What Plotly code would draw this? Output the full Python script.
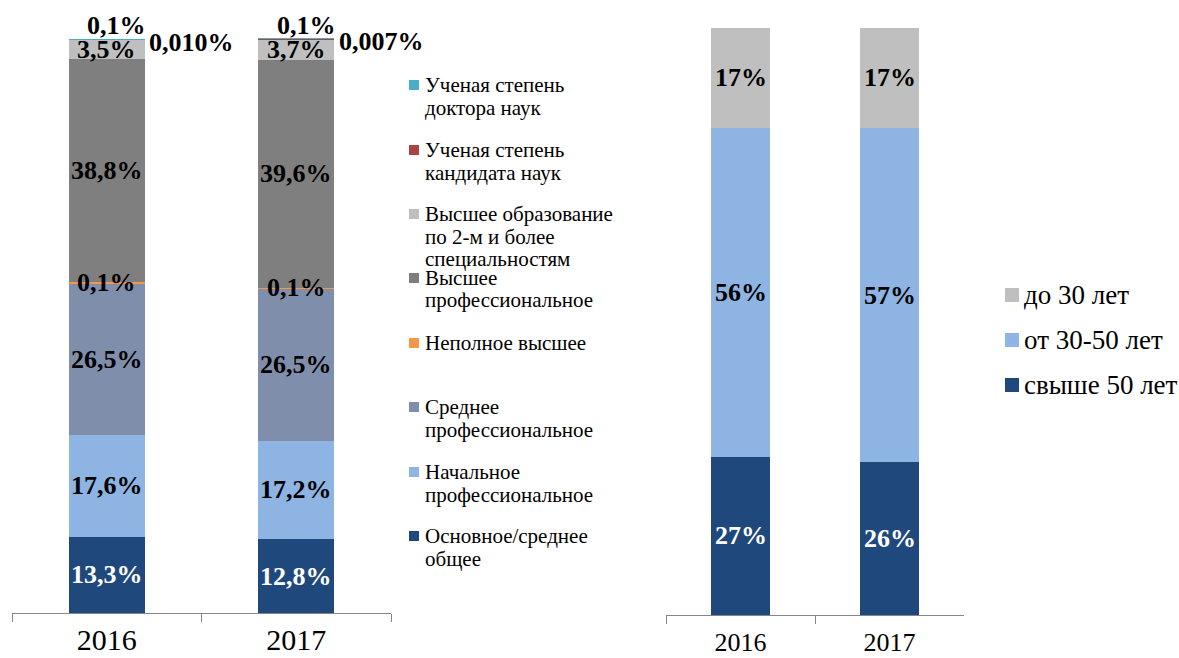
import plotly.graph_objects as go

# ---------------- data ----------------
years = ["2016", "2017"]

edu_names = [
    "Основное/среднее общее",
    "Начальное профессиональное",
    "Среднее профессиональное",
    "Неполное высшее",
    "Высшее профессиональное",
    "Высшее образование по 2-м и более специальностям",
    "Ученая степень кандидата наук",
    "Ученая степень доктора наук",
]
edu_basic = [13.3, 12.8]
edu_initial = [17.6, 17.2]
edu_secondary = [26.5, 26.5]
edu_incomplete = [0.1, 0.1]
edu_higher = [38.8, 39.6]
edu_two_higher = [3.5, 3.7]
edu_candidate = [0.1, 0.1]
edu_doctor = [0.010, 0.007]

age_names = ["свыше 50 лет", "от 30-50 лет", "до 30 лет"]
age_over50 = [27, 26]
age_30_50 = [56, 57]
age_under30 = [17, 17]

# legend text lines (left chart, top to bottom)
edu_legend_lines = [
    ["Ученая степень", "доктора наук"],
    ["Ученая степень", "кандидата наук"],
    ["Высшее образование", "по 2-м и более", "специальностям"],
    ["Высшее", "профессиональное"],
    ["Неполное высшее"],
    ["Среднее", "профессиональное"],
    ["Начальное", "профессиональное"],
    ["Основное/среднее", "общее"],
]

# ---------------- styles ----------------
FONT = "Liberation Serif, Times New Roman, serif"
edu_colors = ["#1F497D", "#8EB4E3", "#7F8FAB", "#F79646",
              "#7F7F7F", "#BFBFBF", "#A94442", "#4BACC6"]
edu_text_colors = ["white", "black", "black", "black",
                   "black", "black", "black", "black"]
age_colors = ["#1F497D", "#8EB4E3", "#BFBFBF"]
age_text_colors = ["white", "black", "black"]

W, H = 1179, 658
def px_x(x): return x / W
def px_y(y): return 1 - y / H

Y_TOP = 102  # a little headroom so labels at ~100% stay inside the axis range

fig = go.Figure()

edu_series = [edu_basic, edu_initial, edu_secondary, edu_incomplete,
              edu_higher, edu_two_higher, edu_candidate, edu_doctor]
for name, vals, col in zip(edu_names, edu_series, edu_colors):
    fig.add_trace(go.Bar(x=years, y=vals, name=name, marker_color=col,
                         marker_line_width=0, xaxis="x", yaxis="y",
                         showlegend=False))

age_series = [age_over50, age_30_50, age_under30]
for name, vals, col in zip(age_names, age_series, age_colors):
    fig.add_trace(go.Bar(x=years, y=vals, name=name, marker_color=col,
                         marker_line_width=0, xaxis="x2", yaxis="y2",
                         showlegend=False))

annotations = []
shapes = []

# data labels, left chart (x = category index on category axis)
for j, yr in enumerate(years):
    base = 0.0
    for i, vals in enumerate(edu_series):
        v = vals[j]
        mid = base + v / 2
        base += v
        if i == 7:
            txt = f"{v:.3f}".replace(".", ",") + "%"
            xs, ys = 85, -4
        else:
            txt = f"{v:.1f}".replace(".", ",") + "%"
            xs, ys = 0, 0
            if i == 6:
                xs, ys = 10, 13
        annotations.append(dict(
            x=j, y=mid, xref="x", yref="y", text=f"<b>{txt}</b>",
            showarrow=False, xshift=xs, yshift=ys,
            font=dict(family=FONT, size=26, color=edu_text_colors[i])))

# data labels, right chart
for j, yr in enumerate(years):
    base = 0.0
    for i, vals in enumerate(age_series):
        v = vals[j]
        mid = base + v / 2
        base += v
        annotations.append(dict(
            x=j, y=mid, xref="x2", yref="y2", text=f"<b>{v:.0f}%</b>",
            showarrow=False,
            font=dict(family=FONT, size=26, color=age_text_colors[i])))

# left legend (manual, Excel-like spacing)
leg_first_line_y = [85, 150, 214, 278, 343, 407, 472, 536]
leg_colors_top_down = list(reversed(edu_colors))
line_gap = 22.5
for lines, y0, col in zip(edu_legend_lines, leg_first_line_y, leg_colors_top_down):
    shapes.append(dict(type="rect", xref="paper", yref="paper",
                       x0=px_x(409), x1=px_x(419),
                       y0=px_y(y0 + 5), y1=px_y(y0 - 5),
                       fillcolor=col, line_width=0))
    for k, ln in enumerate(lines):
        annotations.append(dict(
            x=px_x(423), y=px_y(y0 + k * line_gap), xref="paper", yref="paper",
            xanchor="left", yanchor="middle", text=ln, showarrow=False,
            font=dict(family=FONT, size=21, color="black")))

# right legend
r_leg_y = [295, 340, 385]
for name, y0, col in zip(list(reversed(age_names)), r_leg_y, list(reversed(age_colors))):
    shapes.append(dict(type="rect", xref="paper", yref="paper",
                       x0=px_x(1005), x1=px_x(1019),
                       y0=px_y(y0 + 7), y1=px_y(y0 - 7),
                       fillcolor=col, line_width=0))
    annotations.append(dict(
        x=px_x(1022), y=px_y(y0), xref="paper", yref="paper",
        xanchor="left", yanchor="middle", text=name, showarrow=False,
        font=dict(family=FONT, size=27, color="black")))

axis_common = dict(type="category", range=[-0.5, 1.5], autorange=False,
                   showline=True, linecolor="#868686",
                   linewidth=1, ticks="outside", tickson="boundaries",
                   ticklen=8, tickcolor="#868686", showgrid=False,
                   zeroline=False, fixedrange=True, automargin=False,
                   tickangle=0)

# pixel rows of value 0 and value 100 on each chart
L0, L100 = 613, 38
R0, R100 = 615, 28
L_TOP = L0 - (L0 - L100) * Y_TOP / 100
R_TOP = R0 - (R0 - R100) * Y_TOP / 100

fig.update_layout(
    width=W, height=H,
    margin=dict(l=0, r=0, t=0, b=0, autoexpand=False),
    paper_bgcolor="white", plot_bgcolor="white",
    barmode="stack", bargap=0.6,
    showlegend=False,
    font=dict(family=FONT, color="black"),
    xaxis=dict(domain=[px_x(12), px_x(391)], anchor="y", ticklabelstandoff=0,
               tickfont=dict(family=FONT, size=30, color="black"), **axis_common),
    yaxis=dict(domain=[px_y(L0), px_y(L_TOP)], range=[0, Y_TOP], visible=False,
               anchor="x", fixedrange=True),
    xaxis2=dict(domain=[px_x(666), px_x(964)], anchor="y2", ticklabelstandoff=4,
                tickfont=dict(family=FONT, size=26, color="black"), **axis_common),
    yaxis2=dict(domain=[px_y(R0), px_y(R_TOP)], range=[0, Y_TOP], visible=False,
                anchor="x2", fixedrange=True),
    annotations=annotations,
    shapes=shapes,
)

fig.write_html(
    "out.html",
    config={"displayModeBar": False},
    post_script="document.body.style.margin='0';document.body.style.overflow='hidden';",
)
